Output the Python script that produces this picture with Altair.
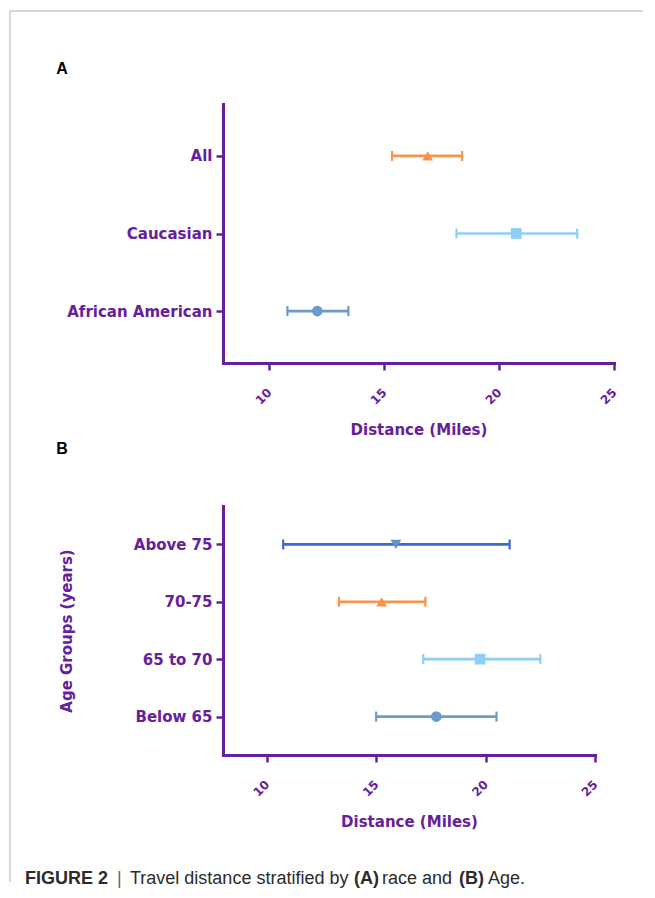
import altair as alt
import pandas as pd

# ---------------- data ----------------
race_groups = ["All", "Caucasian", "African American"]
race_mean = [16.9, 20.75, 12.1]
race_low = [15.35, 18.15, 10.8]
race_high = [18.4, 23.4, 13.45]

age_groups = ["Above 75", "70-75", "65 to 70", "Below 65"]
age_mean = [15.9, 15.25, 19.75, 17.75]
age_low = [10.75, 13.3, 17.15, 15.0]
age_high = [21.1, 17.25, 22.5, 20.5]

x_ticks = [10, 15, 20, 25]
x_domain = [8, 25]

# ---------------- styles ----------------
PURPLE = "#66209a"
ORANGE = "#f7934c"
LIGHT = "#8ecff4"
STEEL = "#6a9bcc"
ROYAL = "#4166d8"
TRI = "#6391cc"
BORDER = "#b0b0b0"
CAP_COLOR = "#2b2b2b"
AXFONT = "DejaVu Sans"
CAPFONT = "Liberation Sans"

one = pd.DataFrame({"k": [0]})


def txt(text, x, y, size, weight, color, font, align="left", baseline="alphabetic"):
    return alt.Chart(one).mark_text(
        text=text, fontSize=size, fontWeight=weight, color=color, font=font,
        align=align, baseline=baseline
    ).encode(x=alt.value(x), y=alt.value(y))


def make_panel(cats, mean, low, high, line_colors, point_colors, shapes,
               width, height, ytitle, extra_layers):
    df = pd.DataFrame({"group": cats, "mean": mean, "low": low, "high": high})
    xsc = alt.Scale(domain=x_domain, nice=False, zero=False)
    ysc = alt.Scale(type="point", domain=cats, padding=0.67)
    x_axis = alt.Axis(
        values=x_ticks, title="Distance (Miles)", grid=False,
        labelAngle=315, labelAlign="right", labelBaseline="middle",
        labelPadding=20, labelFont=AXFONT, labelFontSize=12,
        labelFontWeight="bold", labelColor=PURPLE,
        tickSize=7, tickWidth=2.5, tickColor=PURPLE,
        domainWidth=3, domainColor=PURPLE, domainCap="square",
        titleFont=AXFONT, titleFontSize=15, titleFontWeight="bold",
        titleColor=PURPLE, titleY=66, titleBaseline="middle",
    )
    y_axis = alt.Axis(
        title=ytitle, grid=False, labelPadding=4, labelFont=AXFONT,
        labelFontSize=15, labelFontWeight="bold", labelColor=PURPLE,
        tickSize=7, tickWidth=2.5, tickColor=PURPLE,
        domainWidth=3, domainColor=PURPLE, domainCap="square",
        titleFont=AXFONT, titleFontSize=15, titleFontWeight="bold",
        titleColor=PURPLE, titleAngle=270, titleBaseline="middle",
        titleX=-157, titleY=height / 2,
    )

    def X(f):
        return alt.X(f + ":Q", scale=xsc, axis=x_axis)

    Y = alt.Y("group:N", scale=ysc, axis=y_axis, sort=cats)
    col = alt.Color("group:N", scale=alt.Scale(domain=cats, range=line_colors), legend=None)
    base = alt.Chart(df)
    bars = base.mark_rule(strokeWidth=2.7, opacity=1).encode(
        x=X("low"), x2="high:Q", y=Y, color=col)
    cap_lo = base.mark_tick(size=10, thickness=2.2, opacity=1).encode(x=X("low"), y=Y, color=col)
    cap_hi = base.mark_tick(size=10, thickness=2.2, opacity=1).encode(x=X("high"), y=Y, color=col)
    pts = base.mark_point(filled=True, size=115, opacity=1).encode(
        x=X("mean"), y=Y,
        shape=alt.Shape("group:N", scale=alt.Scale(domain=cats, range=shapes), legend=None),
        fill=alt.Fill("group:N", scale=alt.Scale(domain=cats, range=point_colors), legend=None),
    )
    return alt.layer(*extra_layers, bars, cap_lo, cap_hi, pts).properties(width=width, height=height)


# annotations for panel A (coordinates relative to panel A plot area)
a_layers = [
    alt.Chart(one).mark_rule(color=BORDER, strokeWidth=1).encode(
        x=alt.value(-213), x2=alt.value(420), y=alt.value(-93)),
    alt.Chart(one).mark_rule(color=BORDER, strokeWidth=1).encode(
        x=alt.value(-213), y=alt.value(-93), y2=alt.value(778)),
    txt("A", -161, -30, 16, "bold", "black", CAPFONT, align="center"),
]

# annotations for panel B (relative to panel B plot area)
b_layers = [
    txt("B", -161, -52, 16, "bold", "black", CAPFONT, align="center"),
    txt("FIGURE 2", -198, 378, 18, "bold", CAP_COLOR, CAPFONT),
    txt("|", -106, 378, 18, "normal", "#666666", CAPFONT),
    txt("Travel distance stratified by", -93, 378, 18, "normal", CAP_COLOR, CAPFONT),
    txt("(A)", 131, 378, 18, "bold", CAP_COLOR, CAPFONT),
    txt("race and", 159, 378, 18, "normal", CAP_COLOR, CAPFONT),
    txt("(B)", 236, 378, 18, "bold", CAP_COLOR, CAPFONT),
    txt("Age.", 265, 378, 18, "normal", CAP_COLOR, CAPFONT),
]

panel_a = make_panel(race_groups, race_mean, race_low, race_high,
                     [ORANGE, LIGHT, STEEL], [ORANGE, LIGHT, STEEL],
                     ["triangle-up", "square", "circle"],
                     391, 259, None, a_layers)

panel_b = make_panel(age_groups, age_mean, age_low, age_high,
                     [ROYAL, ORANGE, LIGHT, STEEL], [TRI, ORANGE, LIGHT, STEEL],
                     ["triangle-down", "triangle-up", "square", "circle"],
                     372, 249, "Age Groups (years)", b_layers)

chart = alt.vconcat(panel_a, panel_b, spacing=143, bounds="flush").resolve_scale(
    color="independent", shape="independent", fill="independent",
    x="independent", y="independent"
).properties(
    padding={"left": 1, "top": 2, "right": 0, "bottom": 0}
).configure_view(stroke="transparent", strokeWidth=0)

chart.save("out.html", embed_options={"renderer": "svg", "actions": False})
